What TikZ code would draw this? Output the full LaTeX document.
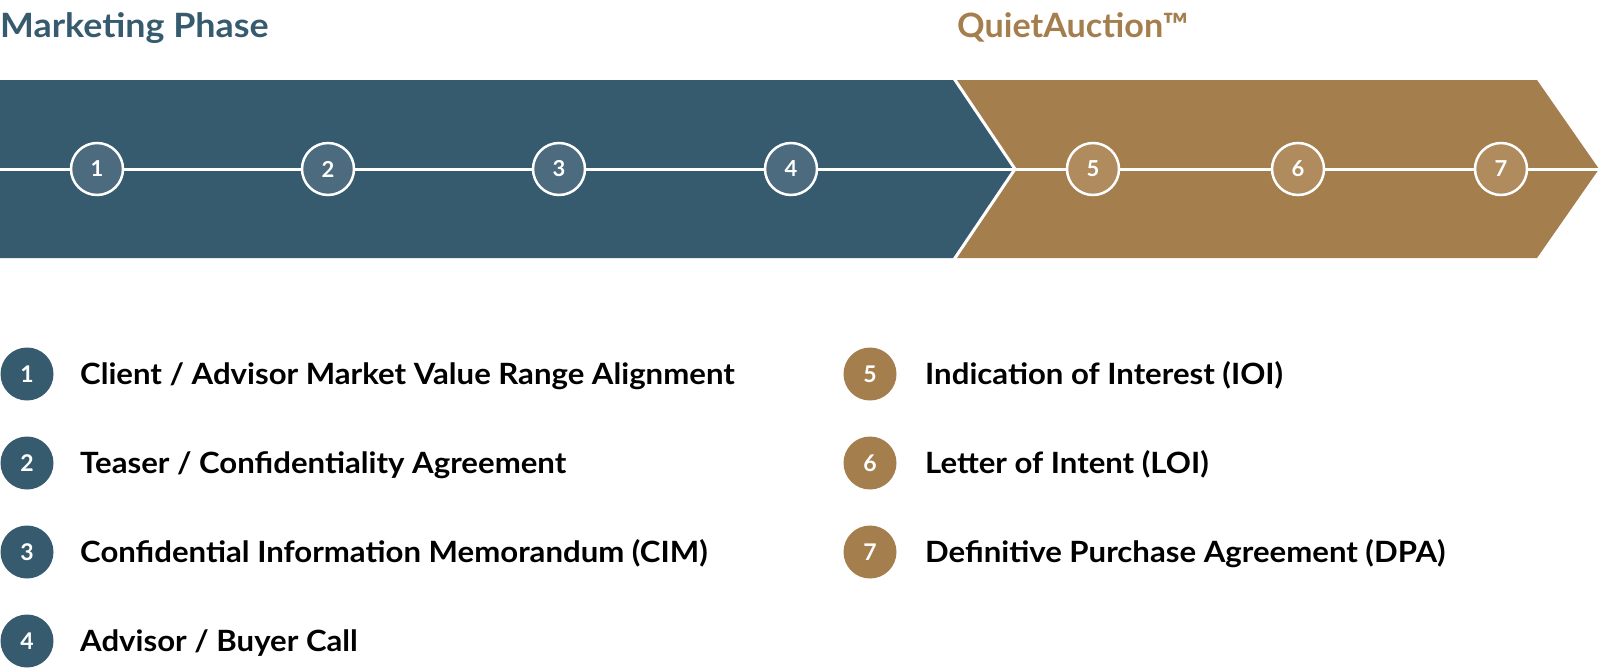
\documentclass[tikz,border=0pt]{standalone}
\usepackage{fontspec}
\setmainfont{Lato}
\newfontfamily\listfont[FakeStretch=1.063]{Lato}
\newfontfamily\titlefont[FakeStretch=1.07]{Lato}
\newfontfamily\qtitlefont[FakeStretch=1.02]{Lato}
\definecolor{mblue}{HTML}{365A6E}
\definecolor{mgold}{HTML}{A47E4D}
\definecolor{cblue}{HTML}{4C6B7E}
\definecolor{cgold}{HTML}{B08B5D}
\begin{document}
\begin{tikzpicture}[x=1pt,y=-1pt,
  bandcirc/.style={circle,draw=white,line width=2.5pt,minimum size=52pt,inner sep=0pt,text=white,font=\fontsize{22}{22}\selectfont\bfseries},
  listcirc/.style={circle,minimum size=53pt,inner sep=0pt,text=white,font=\fontsize{23}{23}\selectfont\bfseries},
  listtext/.style={anchor=base west,inner sep=0pt,font=\listfont\fontsize{29.3}{30}\selectfont\bfseries,text=black},
  title/.style={anchor=base west,inner sep=0pt,font=\titlefont\fontsize{33.5}{34}\selectfont\bfseries},
  qtitle/.style={anchor=base west,inner sep=0pt,font=\qtitlefont\fontsize{33.5}{34}\selectfont\bfseries},
  midline/.style={white,line width=3pt}]
\useasboundingbox (0,0) rectangle (1600,667);
% bands
\fill[mblue] (0,80) -- (953,80) -- (1013,169) -- (953,258) -- (0,258) -- cycle;
\fill[mgold] (957,80) -- (1537,80) -- (1599,169) -- (1537,258) -- (957,258) -- (1017,169) -- cycle;
% titles
\node[title,text=mblue] (t1) at (0,37) {Marketing Phase};
\node[qtitle,text=mgold] (t2) at (957,37) {QuietAuction™};
% band circles
\coordinate (s) at (0,169);
\coordinate (e) at (1599,169);
\node[bandcirc,fill=cblue] (b1) at (97,169) {1};
\node[bandcirc,fill=cblue] (b2) at (328,169) {2};
\node[bandcirc,fill=cblue] (b3) at (559,169) {3};
\node[bandcirc,fill=cblue] (b4) at (791,169) {4};
\node[bandcirc,fill=cgold] (b5) at (1093,169) {5};
\node[bandcirc,fill=cgold] (b6) at (1298,169) {6};
\node[bandcirc,fill=cgold] (b7) at (1501,169) {7};
\draw[midline] (s) -- (b1);
\draw[midline] (b1) -- (b2);
\draw[midline] (b2) -- (b3);
\draw[midline] (b3) -- (b4);
\draw[midline] (b4) -- (b5);
\draw[midline] (b5) -- (b6);
\draw[midline] (b6) -- (b7);
\draw[midline] (b7) -- (e);
% list
\node[listcirc,fill=mblue] (l1) at (27,374) {1};
\node[listcirc,fill=mblue] (l2) at (27,463) {2};
\node[listcirc,fill=mblue] (l3) at (27,552) {3};
\node[listcirc,fill=mblue] (l4) at (27,641) {4};
\node[listcirc,fill=mgold] (l5) at (870,374) {5};
\node[listcirc,fill=mgold] (l6) at (870,463) {6};
\node[listcirc,fill=mgold] (l7) at (870,552) {7};
\node[listtext] (x1) at (80,384.5) {Client / Advisor Market Value Range Alignment};
\node[listtext] (x2) at (80,473.5) {Teaser / Confidentiality Agreement};
\node[listtext] (x3) at (80,562.5) {Confidential Information Memorandum (CIM)};
\node[listtext] (x4) at (80,651.5) {Advisor / Buyer Call};
\node[listtext] (x5) at (925,384.5) {Indication of Interest (IOI)};
\node[listtext] (x6) at (925,473.5) {Letter of Intent (LOI)};
\node[listtext] (x7) at (925,562.5) {Definitive Purchase Agreement (DPA)};
\end{tikzpicture}
\end{document}
